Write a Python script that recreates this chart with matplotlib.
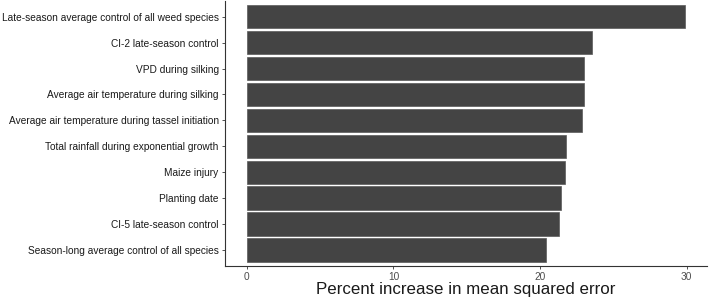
import matplotlib
matplotlib.use("Agg")
import matplotlib.pyplot as plt

categories = [
    "Late-season average control of all weed species",
    "CI-2 late-season control",
    "VPD during silking",
    "Average air temperature during silking",
    "Average air temperature during tassel initiation",
    "Total rainfall during exponential growth",
    "Maize injury",
    "Planting date",
    "CI-5 late-season control",
    "Season-long average control of all species",
]
values = [29.9, 23.55, 23.0, 23.0, 22.85, 21.75, 21.7, 21.4, 21.27, 20.4]
xticks = [0, 10, 20, 30]

plt.rcParams['font.family'] = ['Liberation Sans', 'DejaVu Sans']

fig = plt.figure(figsize=(7.09, 2.98), dpi=100)
ax = fig.add_axes([225/709, 1 - 265.5/298, (707 - 225)/709, (265.5 - 1.2)/298])

ypos = list(range(len(categories)))
ax.barh(ypos, values, height=0.9, color="#444444", edgecolor="#5a5a5a", linewidth=0.5)
ax.set_ylim(len(categories) - 0.4, -0.6)
vmax = max(values)
ax.set_xlim(-0.05 * vmax, vmax * 1.05)
ax.set_yticks(ypos)
ax.set_yticklabels(categories, fontsize=7.3, color="#1a1a1a")
ax.set_xticks(xticks)
ax.set_xticklabels([str(t) for t in xticks], fontsize=7.3, color="#4d4d4d")
ax.tick_params(axis='both', length=2.5, width=0.6, color="#333333", pad=2)
for s in ['top', 'right']:
    ax.spines[s].set_visible(False)
for s in ['left', 'bottom']:
    ax.spines[s].set_linewidth(0.8)
    ax.spines[s].set_color("#333333")
ax.set_xlabel("Percent increase in mean squared error", fontsize=12.2, color="#1a1a1a", labelpad=0)

fig.savefig("out.png", dpi=100)
